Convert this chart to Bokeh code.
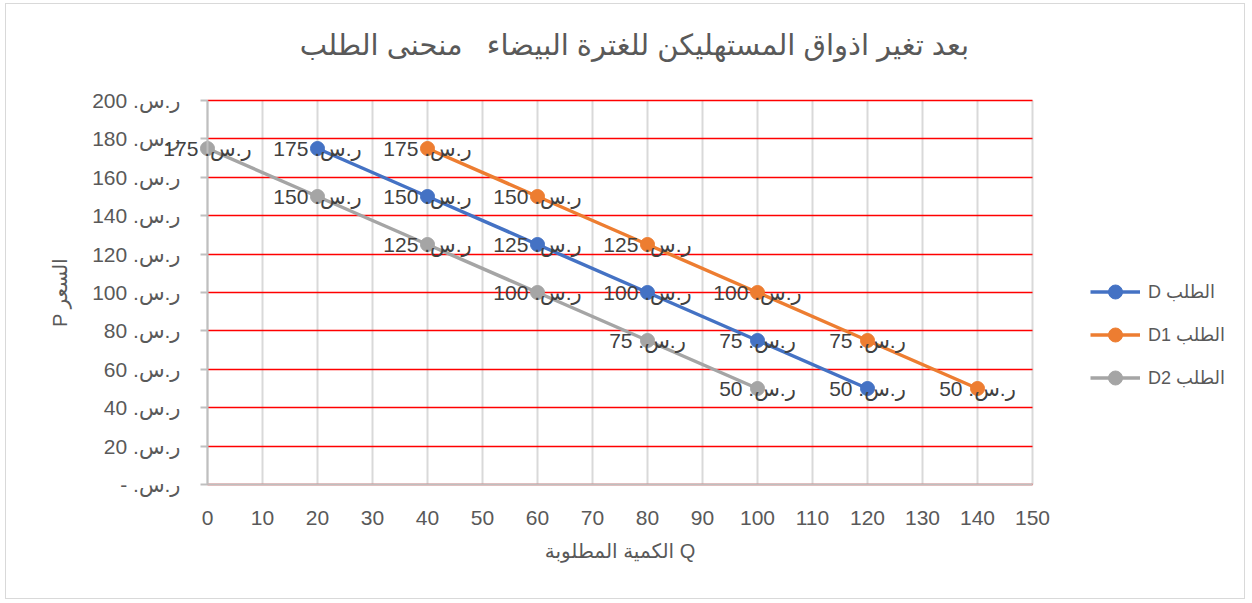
from bokeh.plotting import figure
from bokeh.models import ColumnDataSource, FixedTicker, Legend, LegendItem, Label, LabelSet, Range1d
from bokeh.embed import file_html
from bokeh.resources import INLINE
from bokeh.core.properties import value

# ---- data ----
title_part1 = "بعد تغير اذواق المستهليكن للغترة البيضاء"
title_part2 = "منحنى الطلب"
title_text = title_part1 + "\u00A0\u00A0\u00A0" + title_part2
x_title = "الكمية المطلوبة Q"
y_title = "P السعر"
currency = "ر.س."

price = [175, 150, 125, 100, 75, 50]
q_D = [20, 40, 60, 80, 100, 120]
q_D1 = [40, 60, 80, 100, 120, 140]
q_D2 = [0, 20, 40, 60, 80, 100]
series_names = ["D الطلب", "D1 الطلب", "D2 الطلب"]
series_q = [q_D, q_D1, q_D2]
colors = ["#4472C4", "#ED7D31", "#A5A5A5"]
x_ticks = list(range(0, 151, 10))
y_ticks = list(range(0, 201, 20))
x_lim = (0, 150)
y_lim = (0, 200)

FONT = "'Liberation Sans', 'DejaVu Sans', sans-serif"

# canvas geometry (pixels)
W, H = 1240, 596
X0_PX, X1_PX = 201, 1026      # where x=0 and x=150 fall
Y0_PX, Y1_PX = 480, 96        # where y=0 and y=200 fall (from top)
sx = (X1_PX - X0_PX) / (x_lim[1] - x_lim[0])
sy = (Y0_PX - Y1_PX) / (y_lim[1] - y_lim[0])

p = figure(width=W, height=H,
           x_range=Range1d(x_lim[0] - X0_PX / sx, x_lim[1] + (W - X1_PX) / sx),
           y_range=Range1d(y_lim[0] - (H - Y0_PX) / sy, y_lim[1] + Y1_PX / sy),
           output_backend="svg", toolbar_location=None,
           min_border_left=0, min_border_right=0,
           min_border_top=0, min_border_bottom=0)
p.styles = {"border": "1px solid #D9D9D9", "margin-left": "5px", "margin-top": "3px"}
p.outline_line_color = None
p.background_fill_color = "white"
p.border_fill_color = "white"

# grids
p.xgrid.ticker = FixedTicker(ticks=x_ticks)
p.xgrid.grid_line_color = "#D9D9D9"
p.xgrid.grid_line_width = 2
p.xgrid.bounds = x_lim
p.xgrid.cross_bounds = y_lim
p.ygrid.ticker = FixedTicker(ticks=y_ticks)
p.ygrid.grid_line_color = "#FF0000"
p.ygrid.grid_line_width = 1.5
p.ygrid.bounds = y_lim
p.ygrid.cross_bounds = x_lim

# axes
xa = p.xaxis[0]
xa.fixed_location = 0
xa.bounds = x_lim
xa.ticker = FixedTicker(ticks=x_ticks)
xa.axis_line_color = "#BFBFBF"
xa.axis_line_width = 2
xa.major_tick_line_color = None
xa.minor_tick_line_color = None
xa.major_tick_out = 0
xa.major_tick_in = 0
xa.major_label_standoff = 26
xa.major_label_text_font = FONT
xa.major_label_text_font_size = "21px"
xa.major_label_text_color = "#595959"
xa.axis_label = x_title
xa.axis_label_text_font = FONT
xa.axis_label_text_font_size = "20px"
xa.axis_label_text_font_style = "normal"
xa.axis_label_text_color = "#595959"
xa.axis_label_standoff = 12

ya = p.yaxis[0]
ya.fixed_location = 0
ya.bounds = y_lim
ya.ticker = FixedTicker(ticks=y_ticks)
ya.major_label_overrides = {t: (f"{currency} {t}" if t != 0 else f"{currency} -\u200F") for t in y_ticks}
ya.axis_line_color = "#BFBFBF"
ya.axis_line_width = 2
ya.major_tick_line_color = "#BFBFBF"
ya.major_tick_line_width = 2
ya.major_tick_out = 7
ya.major_tick_in = 0
ya.minor_tick_line_color = None
ya.major_label_standoff = 20
ya.major_label_text_font = FONT
ya.major_label_text_font_size = "21px"
ya.major_label_text_color = "#595959"
ya.axis_label = y_title
ya.axis_label_text_font = FONT
ya.axis_label_text_font_size = "20px"
ya.axis_label_text_font_style = "normal"
ya.axis_label_text_color = "#595959"
ya.axis_label_standoff = 18

# series
items = []
label_sources = []
for name, q, c in zip(series_names, series_q, colors):
    src = ColumnDataSource(dict(q=q, p=price, lab=[f"{currency} {v}" for v in price]))
    ln = p.line("q", "p", source=src, line_color=c, line_width=3.5)
    mk = p.scatter("q", "p", source=src, size=14, fill_color=c, line_color=c, marker="circle")
    items.append(LegendItem(label=name, renderers=[ln, mk]))
    label_sources.append(src)

for src in label_sources:
    p.add_layout(LabelSet(x="q", y="p", text="lab", source=src,
                          text_align="center", text_baseline="middle",
                          text_font=value(FONT), text_font_size="21px",
                          text_color="#404040"))

legend = Legend(items=items, location=(1084, 205), orientation="vertical",
                glyph_width=50, glyph_height=35, label_height=35,
                spacing=8, padding=0, margin=0, label_standoff=8,
                label_text_font=FONT, label_text_font_size="18px",
                label_text_color="#595959",
                border_line_color=None, background_fill_alpha=0)
p.add_layout(legend)

title = Label(x=628, y=H - 40, x_units="screen", y_units="screen", text=title_text,
              text_align="center", text_baseline="middle",
              text_font=FONT, text_font_size="29px", text_color="#595959")
p.add_layout(title)

open("out.html", "w").write(file_html(p, INLINE))
